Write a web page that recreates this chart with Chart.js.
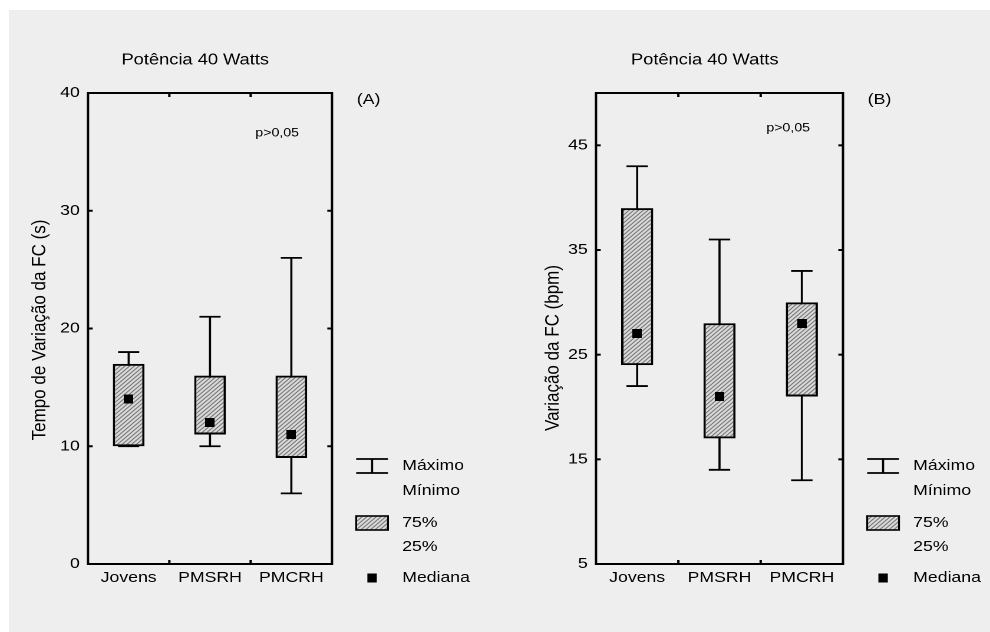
<!DOCTYPE html>
<html>
<head>
<meta charset="utf-8">
<script src="https://cdn.jsdelivr.net/npm/chart.js@4/dist/chart.umd.min.js"></script>
<style>
  body { margin: 0; background: #fff; }
  #fundo { position: absolute; left: 9px; top: 10px; width: 981px; height: 622px; background: #eeeeee; }
  canvas { position: absolute; top: 0; }
  #graficoA { left: 0; }
  #graficoB { left: 495px; }
</style>
</head>
<body>
<div id="fundo"></div>
<canvas id="graficoA" width="420" height="632" style="width:495px;height:632px"></canvas>
<canvas id="graficoB" width="420" height="632" style="width:495px;height:632px"></canvas>
<script>
// dados
const grupos = ['Jovens', 'PMSRH', 'PMCRH'];

// (A) tempo de variacao da FC (s)
const tempoMax = [18, 21, 26];
const tempoQ3 = [17, 16, 16];
const tempoMed = [14, 12, 11];
const tempoQ1 = [10, 11, 9];
const tempoMin = [10, 10, 6];
const ticksTempo = [0, 10, 20, 30, 40];

// (B) variacao da FC (bpm)
const fcMax = [43, 36, 33];
const fcQ3 = [39, 28, 30];
const fcMed = [27, 21, 28];
const fcQ1 = [24, 17, 21];
const fcMin = [22, 14, 13];
const ticksFC = [5, 15, 25, 35, 45];

// a figura original vem esticada na horizontal
const ESTICA = 495 / 420;
const FONTE = '"Liberation Sans", Arial, sans-serif';
Chart.defaults.font.family = FONTE;
Chart.defaults.color = '#000';

// hachura das caixas
const tile = document.createElement('canvas');
tile.width = 4; tile.height = 4;
const tc = tile.getContext('2d');
tc.fillStyle = '#e2e2e2';
tc.fillRect(0, 0, 4, 4);
tc.strokeStyle = '#3a3a3a';
tc.lineWidth = 1;
tc.beginPath();
tc.moveTo(0, 4); tc.lineTo(4, 0);
tc.moveTo(-1, 1); tc.lineTo(1, -1);
tc.moveTo(3, 5); tc.lineTo(5, 3);
tc.stroke();
const hachura = document.createElement('canvas').getContext('2d').createPattern(tile, 'repeat');

// marcador da mediana (quadrado que fica quadrado depois de esticado)
const quadrado = document.createElement('canvas');
quadrado.width = 8; quadrado.height = 9;
const qc = quadrado.getContext('2d');
qc.fillStyle = '#000';
qc.fillRect(0, 0, 8, 9);

function linha(ctx, x1, y1, x2, y2) {
  ctx.beginPath();
  ctx.moveTo(x1, y1);
  ctx.lineTo(x2, y2);
  ctx.stroke();
}

function pluginCaixas(cfg) {
  return {
    id: 'caixas',
    // bigodes (minimo - maximo)
    beforeDatasetsDraw(chart) {
      const { ctx, scales: { x, y } } = chart;
      const meio = (x.getPixelForValue(1) - x.getPixelForValue(0)) * 0.13;
      ctx.save();
      ctx.strokeStyle = '#000';
      ctx.lineWidth = 1.8;
      cfg.max.forEach((v, i) => {
        const px = x.getPixelForValue(i);
        const yMax = y.getPixelForValue(v);
        const yMin = y.getPixelForValue(cfg.min[i]);
        linha(ctx, px, yMax, px, yMin);
        linha(ctx, px - meio, yMax, px + meio, yMax);
        linha(ctx, px - meio, yMin, px + meio, yMin);
      });
      ctx.restore();
    },
    afterDraw(chart) {
      const { ctx, chartArea: { left, right, top, bottom }, scales: { x, y } } = chart;
      ctx.save();
      ctx.strokeStyle = '#000';
      ctx.lineWidth = 2;
      ctx.strokeRect(left, top, right - left, bottom - top);
      // marcas para dentro
      y.ticks.forEach(t => {
        const py = y.getPixelForValue(t.value);
        linha(ctx, left, py, left + 4, py);
        linha(ctx, right, py, right - 4, py);
      });
      for (let i = 1; i < grupos.length; i++) {
        const px = (x.getPixelForValue(i - 1) + x.getPixelForValue(i)) / 2;
        linha(ctx, px, bottom, px, bottom - 4);
        linha(ctx, px, top, px, top + 4);
      }

      ctx.fillStyle = '#000';
      ctx.textBaseline = 'middle';
      ctx.textAlign = 'center';
      ctx.font = '15.5px ' + FONTE;
      ctx.fillText('Potência 40 Watts', (left + right) / 2 - 12.5, 60);

      ctx.save();
      ctx.translate(cfg.tituloX, cfg.tituloY);
      ctx.rotate(-Math.PI / 2);
      ctx.font = '17px ' + FONTE;
      ctx.fillText(cfg.tituloEixo, 0, 0);
      ctx.restore();

      ctx.textAlign = 'left';
      ctx.font = '15px ' + FONTE;
      ctx.fillText(cfg.letra, right + 21, 100);
      ctx.textAlign = 'center';
      ctx.font = '12px ' + FONTE;
      ctx.fillText('p>0,05', right - 46.5, cfg.pY);

      // legenda
      const lx = right + 20.5, lw = 27, cx = lx + lw / 2, tx = right + 59.5;
      ctx.lineWidth = 1.8;
      linha(ctx, lx, 459, lx + lw, 459);
      linha(ctx, lx, 473, lx + lw, 473);
      linha(ctx, cx, 459, cx, 473);
      ctx.fillStyle = hachura;
      ctx.fillRect(lx, 516, lw, 14);
      ctx.lineWidth = 1.6;
      ctx.strokeRect(lx, 516, lw, 14);
      ctx.fillStyle = '#000';
      ctx.fillRect(cx - 4, 573.5, 8, 9);
      ctx.textAlign = 'left';
      ctx.font = '15px ' + FONTE;
      ctx.fillText('Máximo', tx, 466);
      ctx.fillText('Mínimo', tx, 491);
      ctx.fillText('75%', tx, 523);
      ctx.fillText('25%', tx, 547);
      ctx.fillText('Mediana', tx, 578);
      ctx.restore();
    }
  };
}

function criarGrafico(id, cfg) {
  const ctx = document.getElementById(id).getContext('2d');
  return new Chart(ctx, {
    type: 'bar',
    data: {
      labels: grupos,
      datasets: [
        {
          type: 'line',
          data: cfg.med,
          showLine: false,
          pointStyle: quadrado,
          order: 0
        },
        {
          data: cfg.q1.map((v, i) => [v, cfg.q3[i]]),
          backgroundColor: hachura,
          borderColor: '#000',
          borderWidth: 2,
          borderSkipped: false,
          barPercentage: 0.39,
          categoryPercentage: 1,
          order: 1
        }
      ]
    },
    options: {
      responsive: false,
      animation: false,
      devicePixelRatio: 2,
      layout: { padding: { left: 0, top: 93, right: 420 - cfg.direita, bottom: 0 } },
      plugins: { legend: { display: false }, tooltip: { enabled: false } },
      scales: {
        x: {
          grid: { display: false, drawTicks: false },
          border: { display: false },
          ticks: { font: { size: 15 }, padding: 5 },
          afterFit: s => { s.height = 632 - 564; }
        },
        y: {
          min: cfg.yMin,
          max: cfg.yMax,
          afterBuildTicks: s => { s.ticks = cfg.ticks.map(v => ({ value: v })); },
          grid: { display: false, drawTicks: false },
          border: { display: false },
          ticks: { font: { size: 15 }, padding: 7 },
          afterFit: s => { s.width = cfg.esquerda; }
        }
      }
    },
    plugins: [pluginCaixas(cfg)]
  });
}

criarGrafico('graficoA', {
  max: tempoMax, q3: tempoQ3, med: tempoMed, q1: tempoQ1, min: tempoMin,
  ticks: ticksTempo, yMin: 0, yMax: 40,
  esquerda: 88 / ESTICA, direita: 332 / ESTICA,
  tituloEixo: 'Tempo de Variação da FC (s)', tituloX: 40 / ESTICA, tituloY: 330,
  letra: '(A)', pY: 133
});

criarGrafico('graficoB', {
  max: fcMax, q3: fcQ3, med: fcMed, q1: fcQ1, min: fcMin,
  ticks: ticksFC, yMin: 5, yMax: 50,
  esquerda: 101 / ESTICA, direita: 348 / ESTICA,
  tituloEixo: 'Variação da FC (bpm)', tituloX: 58 / ESTICA, tituloY: 348,
  letra: '(B)', pY: 128
});
</script>
</body>
</html>
